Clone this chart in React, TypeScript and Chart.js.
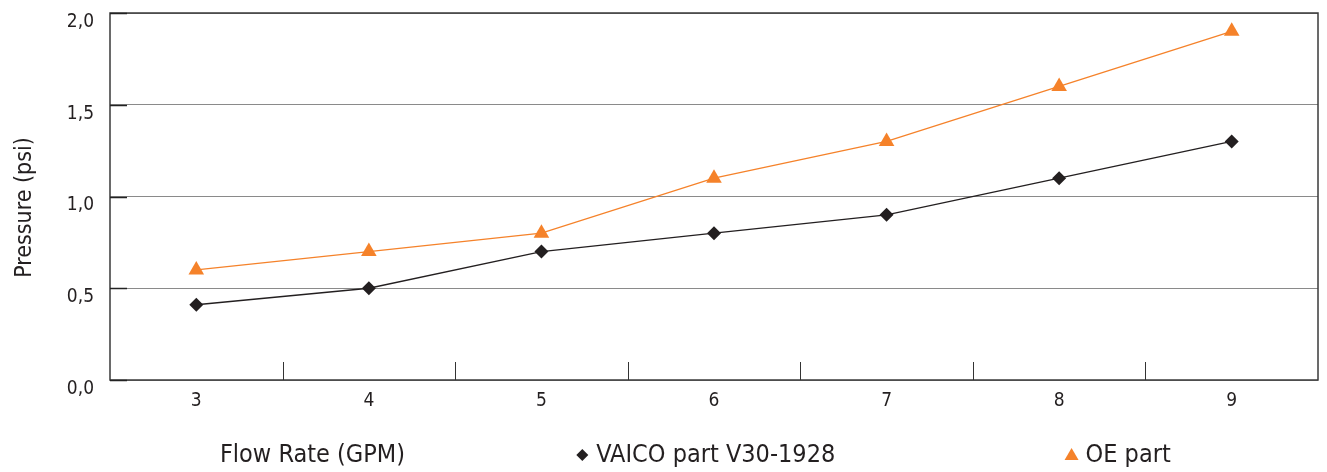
import React, { useEffect, useRef } from "react";
import { Chart, registerables } from "chart.js";

Chart.register(...registerables);

const categories = ["3", "4", "5", "6", "7", "8", "9"];
const vaicoValues = [0.41, 0.5, 0.7, 0.8, 0.9, 1.1, 1.3];
const oeValues = [0.6, 0.7, 0.8, 1.1, 1.3, 1.6, 1.9];
const yTickValues = [0, 0.5, 1, 1.5, 2];
const yTickLabels = ["0,0", "0,5", "1,0", "1,5", "2,0"];
const xTitle = "Flow Rate (GPM)";
const yTitle = "Pressure (psi)";
const vaicoLabel = "VAICO part V30-1928";
const oeLabel = "OE part";

const FONT = "'Liberation Sans Narrow', 'DejaVu Sans Condensed', 'Roboto Condensed', sans-serif";
const DARK = "#231f20";
const ORANGE = "#f5822a";

const framePlugin = {
  id: "frame",
  afterDatasetsDraw(chart: any) {
    const { ctx, chartArea } = chart;
    const x = chart.scales.x;
    const y = chart.scales.y;
    ctx.save();
    ctx.strokeStyle = "#333";
    ctx.lineWidth = 1;
    for (let i = 0; i < categories.length - 1; i++) {
      const px = Math.round((x.getPixelForValue(i) + x.getPixelForValue(i + 1)) / 2) + 0.5;
      ctx.beginPath();
      ctx.moveTo(px, chartArea.bottom);
      ctx.lineTo(px, chartArea.bottom - 18);
      ctx.stroke();
    }
    ctx.strokeStyle = "#222";
    ctx.lineWidth = 1.5;
    yTickValues.forEach((v) => {
      const py = Math.round(y.getPixelForValue(v)) + 0.5;
      ctx.beginPath();
      ctx.moveTo(chartArea.left, py);
      ctx.lineTo(chartArea.left + 17, py);
      ctx.stroke();
    });
    ctx.restore();
  },
  beforeDatasetsDraw(chart: any) {
    const { ctx, chartArea } = chart;
    ctx.save();
    ctx.strokeStyle = "#3a3a3a";
    ctx.lineWidth = 1.5;
    ctx.strokeRect(chartArea.left, chartArea.top, chartArea.right - chartArea.left, chartArea.bottom - chartArea.top);
    ctx.restore();
  },
};

const legendPlugin = {
  id: "bottomLegend",
  afterDraw(chart: any) {
    const { ctx, chartArea } = chart;
    const w = chartArea.right - chartArea.left;
    const h = chartArea.bottom - chartArea.top;
    const cy = 455;
    ctx.save();
    // y axis title
    ctx.save();
    ctx.translate(chartArea.left - 85, chartArea.top + h * 0.53);
    ctx.rotate(-Math.PI / 2);
    ctx.font = `23px ${FONT}`;
    ctx.fillStyle = DARK;
    ctx.textAlign = "center";
    ctx.textBaseline = "middle";
    ctx.fillText(yTitle, 0, 0);
    ctx.restore();

    ctx.font = `25px ${FONT}`;
    ctx.fillStyle = DARK;
    ctx.textBaseline = "middle";
    ctx.textAlign = "left";
    ctx.fillText(xTitle, chartArea.left + w * 0.091, cy);
    const dx = chartArea.left + w * 0.391;
    ctx.beginPath();
    ctx.moveTo(dx, cy - 6);
    ctx.lineTo(dx + 6, cy);
    ctx.lineTo(dx, cy + 6);
    ctx.lineTo(dx - 6, cy);
    ctx.closePath();
    ctx.fill();
    ctx.fillText(vaicoLabel, dx + 14, cy);
    const tx = chartArea.left + w * 0.796;
    ctx.fillStyle = ORANGE;
    ctx.beginPath();
    ctx.moveTo(tx, cy - 7);
    ctx.lineTo(tx + 7, cy + 5);
    ctx.lineTo(tx - 7, cy + 5);
    ctx.closePath();
    ctx.fill();
    ctx.fillStyle = DARK;
    ctx.fillText(oeLabel, tx + 14, cy);
    ctx.restore();
  },
};

export default function App() {
  const ref = useRef<HTMLCanvasElement>(null);
  useEffect(() => {
    if (!ref.current) return;
    const chart = new Chart(ref.current, {
      type: "line",
      data: {
        labels: categories,
        datasets: [
          {
            label: vaicoLabel,
            data: vaicoValues,
            borderColor: DARK,
            backgroundColor: DARK,
            borderWidth: 1.3,
            pointStyle: "rectRot",
            pointRadius: 7,
            pointHoverRadius: 7,
            pointBorderWidth: 0,
            tension: 0,
          },
          {
            label: oeLabel,
            data: oeValues,
            borderColor: ORANGE,
            backgroundColor: ORANGE,
            borderWidth: 1.3,
            pointStyle: "triangle",
            pointRadius: 9,
            pointHoverRadius: 9,
            pointBorderWidth: 0,
            tension: 0,
          },
        ],
      },
      options: {
        animation: false,
        responsive: false,
        maintainAspectRatio: false,
        layout: { padding: { top: 13, right: 9, left: 0, bottom: 0 } },
        plugins: { legend: { display: false }, tooltip: { enabled: false } },
        scales: {
          x: {
            offset: true,
            grid: { display: false },
            border: { display: false },
            ticks: { color: DARK, font: { family: FONT, size: 19 }, padding: 2 },
            afterFit(scale: any) {
              scale.height = 92;
            },
          },
          y: {
            min: 0,
            max: 2,
            afterBuildTicks(scale: any) {
              scale.ticks = yTickValues.map((v) => ({ value: v }));
            },
            grid: { color: "#8a8a8a", lineWidth: 1, drawTicks: false },
            border: { display: false },
            ticks: {
              color: DARK,
              font: { family: FONT, size: 19 },
              padding: 16,
              labelOffset: 9,
              callback: (v: any) => {
                const i = yTickValues.indexOf(Number(v));
                return i >= 0 ? yTickLabels[i] : "";
              },
            },
            afterFit(scale: any) {
              scale.width = 110;
              scale.paddingTop = 0;
              scale.paddingBottom = 0;
            },
          },
        },
      },
      plugins: [framePlugin, legendPlugin],
    });
    return () => chart.destroy();
  }, []);
  return (
    <div style={{ position: "absolute", left: 0, top: 0, width: 1327, height: 472, background: "#fff" }}>
      <canvas ref={ref} width={1327} height={472} style={{ display: "block" }} />
    </div>
  );
}
